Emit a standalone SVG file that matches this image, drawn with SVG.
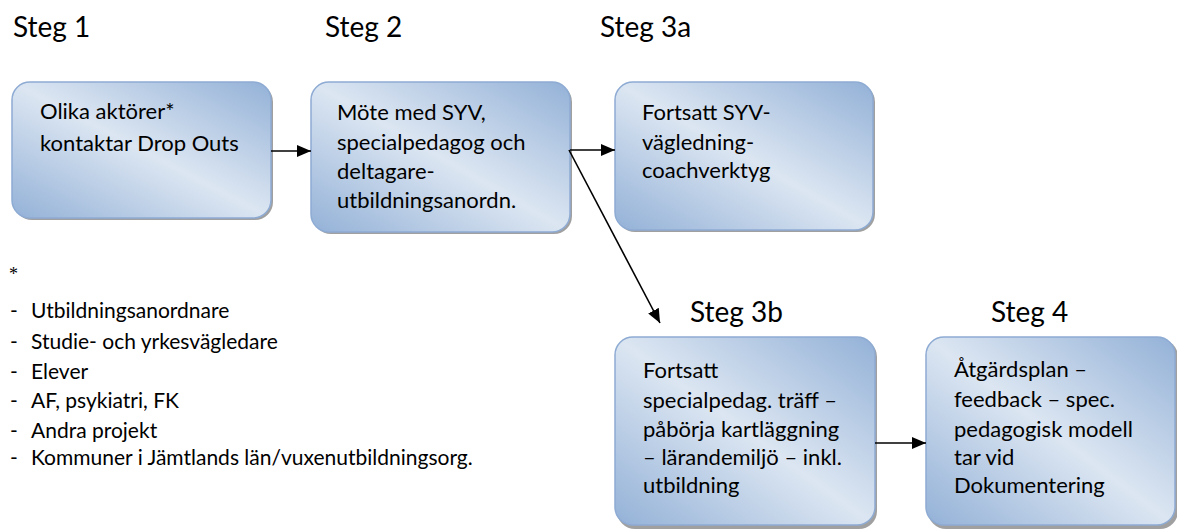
<svg xmlns="http://www.w3.org/2000/svg" width="1177" height="531" viewBox="0 0 1177 531">
<defs>
<linearGradient id="g" x1="1" y1="0" x2="0" y2="1">
<stop offset="0" stop-color="#93b1d7"/>
<stop offset="0.5" stop-color="#dce6f2"/>
<stop offset="1" stop-color="#93b1d7"/>
</linearGradient>
<marker id="ah" viewBox="0 0 14 12" refX="14" refY="6" markerWidth="14" markerHeight="12" markerUnits="userSpaceOnUse" orient="auto">
<path d="M0,0 L14,6 L0,12 z" fill="#000"/>
</marker>
<style>
.t{font-family:Lato,"Liberation Sans",sans-serif;fill:#000;}
.h{font-size:28px;}
.b{font-size:22px;}
.l{font-size:21px;}
.box{fill:url(#g);stroke:#8eabd3;stroke-width:1.5;}
.sh{fill:#a0a0a0;}
.c{stroke:#000;stroke-width:1.6;fill:none;marker-end:url(#ah);}
</style>
</defs>
<rect width="1177" height="531" fill="#fff"/>
<g id="headers" class="t h">
<text x="13" y="37">Steg 1</text>
<text x="325" y="37">Steg 2</text>
<text x="600" y="37">Steg 3a</text>
<text x="690" y="322">Steg 3b</text>
<text x="991" y="322">Steg 4</text>
</g>
<g id="n1">
<rect class="sh" x="14" y="84" width="259" height="136" rx="18"/>
<rect class="box" x="12" y="82" width="259" height="136" rx="18"/>
<text class="t b" x="40" y="119">Olika aktörer*</text>
<text class="t b" x="40" y="151">kontaktar Drop Outs</text>
</g>
<g id="n2">
<rect class="sh" x="313" y="84" width="259" height="150" rx="18"/>
<rect class="box" x="311" y="82" width="259" height="150" rx="18"/>
<text class="t b" x="337" y="120">Möte med SYV,</text>
<text class="t b" x="337" y="150">specialpedagog och</text>
<text class="t b" x="337" y="179">deltagare-</text>
<text class="t b" x="337" y="208">utbildningsanordn.</text>
</g>
<g id="n3a">
<rect class="sh" x="617" y="84" width="258" height="148" rx="18"/>
<rect class="box" x="615" y="82" width="258" height="148" rx="18"/>
<text class="t b" x="642" y="120">Fortsatt SYV-</text>
<text class="t b" x="642" y="150">vägledning-</text>
<text class="t b" x="642" y="178">coachverktyg</text>
</g>
<g id="n3b">
<rect class="sh" x="617" y="339" width="260" height="190" rx="18"/>
<rect class="box" x="615" y="337" width="260" height="188" rx="18"/>
<text class="t b" x="643" y="378">Fortsatt</text>
<text class="t b" x="643" y="408">specialpedag. träff –</text>
<text class="t b" x="643" y="437">påbörja kartläggning</text>
<text class="t b" x="643" y="465">– lärandemiljö – inkl.</text>
<text class="t b" x="643" y="493">utbildning</text>
</g>
<g id="n4">
<rect class="sh" x="928" y="339" width="250" height="190" rx="18"/>
<rect class="box" x="926" y="337" width="249" height="188" rx="18"/>
<text class="t b" x="954" y="377">Åtgärdsplan –</text>
<text class="t b" x="954" y="407">feedback – spec.</text>
<text class="t b" x="954" y="437">pedagogisk modell</text>
<text class="t b" x="954" y="465">tar vid</text>
<text class="t b" x="954" y="493">Dokumentering</text>
</g>
<g id="footnote" class="t">
<text x="9" y="280" style="font-family:'Liberation Serif',serif;font-size:18px">*</text>
<g class="l">
<text x="10" y="318">-</text><text x="31" y="318">Utbildningsanordnare</text>
<text x="10" y="349">-</text><text x="31" y="349">Studie- och yrkesvägledare</text>
<text x="10" y="379">-</text><text x="31" y="379">Elever</text>
<text x="10" y="408">-</text><text x="31" y="408">AF, psykiatri, FK</text>
<text x="10" y="438">-</text><text x="31" y="438">Andra projekt</text>
<text x="10" y="465">-</text><text x="31" y="465">Kommuner i Jämtlands län/vuxenutbildningsorg.</text>
</g>
</g>
<g id="connectors">
<line class="c" x1="271" y1="151" x2="311" y2="151"/>
<line class="c" x1="570" y1="150" x2="615" y2="150"/>
<line class="c" x1="569" y1="150" x2="660" y2="323"/>
<line class="c" x1="875" y1="443" x2="926" y2="443"/>
</g>
</svg>
